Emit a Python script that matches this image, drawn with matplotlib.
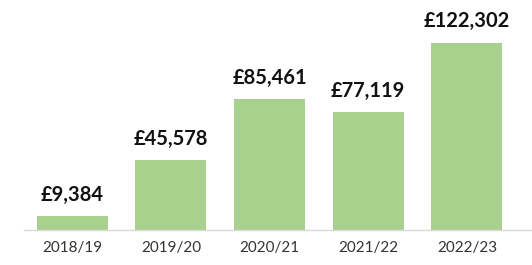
import matplotlib.pyplot as plt

years = ['2018/19', '2019/20', '2020/21', '2021/22', '2022/23']
amounts = [9384, 45578, 85461, 77119, 122302]

plt.rcParams['font.family'] = ['Lato', 'DejaVu Sans']

fig = plt.figure(figsize=(5.32, 2.65), dpi=100)
ax = fig.add_axes([0.045, 0.132, 0.955, 0.81])

x = range(len(years))
ax.bar(x, amounts, width=0.72, color='#A9D18E')

for xi, v in zip(x, amounts):
    ax.annotate(f'£{v:,}', (xi, v), xytext=(0, 8), textcoords='offset points',
                ha='center', va='bottom', fontsize=14.5, fontweight='bold',
                color='#111111', annotation_clip=False)

ax.set_xlim(-0.49, 4.66)
ax.set_ylim(0, 140000)
ax.set_xticks(list(x))
ax.set_xticklabels(years, fontsize=11, color='#333333')
ax.tick_params(axis='x', length=0, pad=8)
ax.set_yticks([])
for s in ['top', 'right', 'left']:
    ax.spines[s].set_visible(False)
ax.spines['bottom'].set_color('#d9d9d9')
ax.spines['bottom'].set_linewidth(1)

fig.savefig('out.png', dpi=100)
